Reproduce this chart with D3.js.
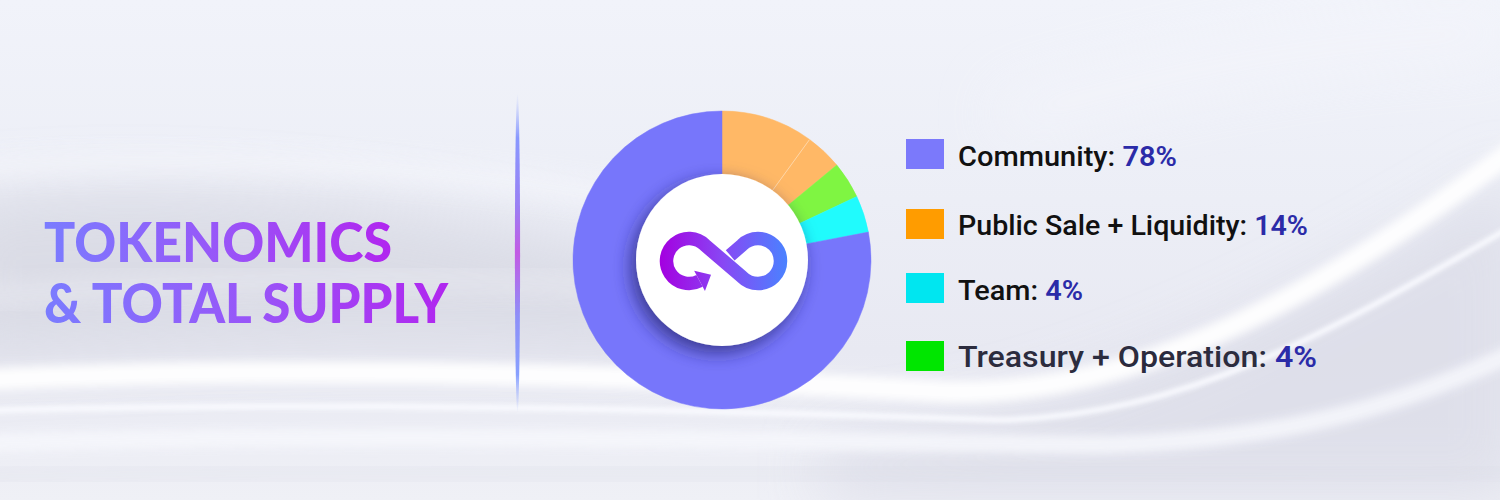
<!DOCTYPE html>
<html>
<head>
<meta charset="utf-8">
<script src="https://cdn.jsdelivr.net/npm/d3@7"></script>
<style>
html,body{margin:0;padding:0;background:#eef0f7;}
svg{display:block;}
</style>
</head>
<body>
<svg id="chart" width="1500" height="500"></svg>
<script>
// ---- data ----
const sliceNames  = ["Public Sale", "Liquidity", "Treasury + Operation", "Team", "Community"];
const sliceValues = [10, 4, 4, 4, 78];
const sliceColors = ["#ffb866", "#ffb866", "#7ff542", "#20fbfd", "#7776fb"];

const legendLabels = ["Community:", "Public Sale + Liquidity:", "Team:", "Treasury + Operation:"];
const legendValues = ["78%", "14%", "4%", "4%"];
const legendColors = ["#7b79fb", "#ff9c00", "#00e6f0", "#00e600"];

const titleLines = ["TOKENOMICS", "& TOTAL SUPPLY"];

// ---- setup ----
const svg = d3.select("#chart");
const defs = svg.append("defs");

const bg = defs.append("linearGradient").attr("id","bgGrad").attr("x1",0).attr("y1",0).attr("x2",0).attr("y2",1);
bg.append("stop").attr("offset","0%").attr("stop-color","#f1f3fa");
bg.append("stop").attr("offset","40%").attr("stop-color","#eceef6");
bg.append("stop").attr("offset","70%").attr("stop-color","#e8e9f2");
bg.append("stop").attr("offset","100%").attr("stop-color","#eff0f6");

[["blur30",30],["blur12",12],["blur5",5],["blur2",2]].forEach(([id,s])=>{
  defs.append("filter").attr("id",id).attr("x","-50%").attr("y","-50%").attr("width","200%").attr("height","200%")
    .append("feGaussianBlur").attr("stdDeviation",s);
});

const shadow = defs.append("filter").attr("id","circShadow").attr("x","-50%").attr("y","-50%").attr("width","200%").attr("height","200%");
shadow.append("feDropShadow").attr("dx",-5).attr("dy",7).attr("stdDeviation",9)
  .attr("flood-color","#202066").attr("flood-opacity",0.7);

const tg = defs.append("linearGradient").attr("id","titleGrad").attr("x1",0).attr("x2",1).attr("y1",0).attr("y2",0);
tg.append("stop").attr("offset","0%").attr("stop-color","#7a7cff");
tg.append("stop").attr("offset","50%").attr("stop-color","#9856f8");
tg.append("stop").attr("offset","100%").attr("stop-color","#b126ef");

const dg = defs.append("linearGradient").attr("id","divGrad").attr("x1",0).attr("x2",0).attr("y1",0).attr("y2",1);
dg.append("stop").attr("offset","0%").attr("stop-color","#a8b8ff").attr("stop-opacity",0);
dg.append("stop").attr("offset","14%").attr("stop-color","#8898ff");
dg.append("stop").attr("offset","35%").attr("stop-color","#9a80f4");
dg.append("stop").attr("offset","50%").attr("stop-color","#c25ae4");
dg.append("stop").attr("offset","70%").attr("stop-color","#8e90f8");
dg.append("stop").attr("offset","88%").attr("stop-color","#88a0ff");
dg.append("stop").attr("offset","100%").attr("stop-color","#a8b8ff").attr("stop-opacity",0);

const lg = defs.append("linearGradient").attr("id","logoGrad").attr("gradientUnits","userSpaceOnUse")
  .attr("x1",660).attr("x2",787).attr("y1",0).attr("y2",0);
lg.append("stop").attr("offset","0%").attr("stop-color","#a400e0");
lg.append("stop").attr("offset","50%").attr("stop-color","#8848f4");
lg.append("stop").attr("offset","100%").attr("stop-color","#4a82ff");

// ---- background ----
svg.append("rect").attr("width",1500).attr("height",500).attr("fill","url(#bgGrad)");
const bgG = svg.append("g");
bgG.append("path").attr("d","M-50,200 C200,170 450,210 650,260 L650,350 C450,340 200,345 -50,360 Z")
  .attr("fill","#d4d5e0").attr("opacity",0.7).attr("filter","url(#blur30)");
bgG.append("path").attr("d","M-50,170 C200,150 450,165 700,210").attr("fill","none")
  .attr("stroke","#f6f7fc").attr("stroke-width",18).attr("opacity",0.8).attr("filter","url(#blur12)");
bgG.append("path").attr("d","M-50,300 C200,275 450,270 760,300").attr("fill","none")
  .attr("stroke","#f1f2f8").attr("stroke-width",14).attr("opacity",0.6).attr("filter","url(#blur12)");
// darker haze below the swoosh on the right
bgG.append("path").attr("d","M820,440 C1050,420 1250,330 1520,170 L1520,500 L820,500 Z")
  .attr("fill","#dcdde8").attr("opacity",0.8).attr("filter","url(#blur30)");
// main white band: left at y~380, bending up to the top right
bgG.append("path").attr("d","M-60,382 C300,362 700,378 950,392 C1150,395 1330,290 1540,130").attr("fill","none")
  .attr("stroke","#ffffff").attr("stroke-width",22).attr("opacity",0.95).attr("filter","url(#blur5)");
bgG.append("path").attr("d","M-60,412 C300,400 700,410 1000,420 C1200,415 1350,320 1540,210").attr("fill","none")
  .attr("stroke","#fafbff").attr("stroke-width",6).attr("opacity",0.9).attr("filter","url(#blur2)");
bgG.append("path").attr("d","M-60,445 C300,432 700,440 1100,445 C1300,440 1420,400 1540,340").attr("fill","none")
  .attr("stroke","#f6f7fc").attr("stroke-width",18).attr("opacity",0.9).attr("filter","url(#blur5)");
bgG.append("path").attr("d","M-60,478 C300,468 700,476 1540,470").attr("fill","none")
  .attr("stroke","#dadbe6").attr("stroke-width",14).attr("opacity",0.5).attr("filter","url(#blur12)");
bgG.append("path").attr("d","M1000,120 C1200,60 1350,40 1510,30").attr("fill","none")
  .attr("stroke","#f6f7fc").attr("stroke-width",40).attr("opacity",0.6).attr("filter","url(#blur30)");

// ---- title ----
const titleG = svg.append("g");
const titleY = [262, 323];
const titleW = [348, 404];
titleG.selectAll("text").data(titleLines).join("text")
  .attr("x",44).attr("y",(d,i)=>titleY[i])
  .attr("font-family","Lato, 'Open Sans', sans-serif").attr("font-weight",900)
  .attr("font-size",56)
  .attr("textLength",(d,i)=>titleW[i]).attr("lengthAdjust","spacingAndGlyphs")
  .attr("fill","url(#titleGrad)")
  .text(d=>d);

// ---- divider ----
svg.append("ellipse").attr("cx",517.5).attr("cy",253).attr("rx",2.6).attr("ry",160)
  .attr("fill","url(#divGrad)");

// ---- donut ----
const cx = 722, cy = 260, rOuter = 149, rInner = 86;
const pie = d3.pie().sort(null).value(d=>d.v).startAngle(0).endAngle(2*Math.PI);
const arc = d3.arc().innerRadius(rInner - 8).outerRadius(rOuter);
const slices = sliceNames.map((n,i)=>({n, v:sliceValues[i], c:sliceColors[i]}));
const arcs = pie(slices);
const donut = svg.append("g").attr("transform",`translate(${cx},${cy})`);
donut.selectAll("path").data(arcs).join("path")
  .attr("d",arc)
  .attr("fill",d=>d.data.c)
  .attr("stroke",d=>d.data.c)
  .attr("stroke-width",0.5);
// faint separator between the two orange slices
const sepA = arcs[0].endAngle;
donut.append("line")
  .attr("x1",(rInner-8)*Math.sin(sepA)).attr("y1",-(rInner-8)*Math.cos(sepA))
  .attr("x2",rOuter*Math.sin(sepA)).attr("y2",-rOuter*Math.cos(sepA))
  .attr("stroke","#ffd6a6").attr("stroke-width",1);

donut.append("circle").attr("r",rInner).attr("fill","#ffffff").attr("filter","url(#circShadow)");

// logo (infinity with arrow)
const logo = svg.append("g");
const c1 = [689,261], c2 = [758,261], rl = 22.5, k = rl*Math.SQRT1_2;
const p1 = [c1[0]+k, c1[1]-k];
const p3 = [c2[0]-k, c2[1]-k];
const p4 = [c1[0]+k, c1[1]+k];
const gapT = 0.32;
const start = [p3[0] + (p4[0]-p3[0])*gapT, p3[1] + (p4[1]-p3[1])*gapT];
const endAng = 62*Math.PI/180;
const endP = [c1[0]+rl*Math.cos(endAng), c1[1]+rl*Math.sin(endAng)];
const lp = d3.path();
lp.moveTo(start[0],start[1]);
lp.lineTo(p3[0],p3[1]);
lp.arc(c2[0],c2[1],rl,-3*Math.PI/4,3*Math.PI/4,false);
lp.lineTo(p1[0],p1[1]);
lp.arc(c1[0],c1[1],rl,-Math.PI/4,endAng,true);
logo.append("path").attr("d",lp.toString()).attr("fill","none")
  .attr("stroke","url(#logoGrad)").attr("stroke-width",13.5);
const dir = [Math.sin(endAng), -Math.cos(endAng)];
const nrm = [Math.cos(endAng), Math.sin(endAng)];
const hw = 11.5, hl = 13;
const tip = [endP[0]+dir[0]*hl, endP[1]+dir[1]*hl];
const b1 = [endP[0]+nrm[0]*hw, endP[1]+nrm[1]*hw];
const b2 = [endP[0]-nrm[0]*hw, endP[1]-nrm[1]*hw];
logo.append("path").attr("d",`M${b1}L${tip}L${b2}Z`).attr("fill","url(#logoGrad)");

// ---- legend ----
const rowTops = [139, 209, 273, 341];
const rowBase = [166, 235, 300, 367];
const rowW = [219, 350, 125, 359];
const legend = svg.append("g");
const rows = legend.selectAll("g").data(legendLabels).join("g");
rows.append("rect").attr("x",906).attr("y",(d,i)=>rowTops[i]).attr("width",38).attr("height",30)
  .attr("fill",(d,i)=>legendColors[i]);
const txt = rows.append("text").attr("x",958).attr("y",(d,i)=>rowBase[i])
  .attr("font-family","Roboto, 'Noto Sans', sans-serif").attr("font-weight",500)
  .attr("font-size",(d,i)=> i===3 ? 29 : 28)
  .attr("textLength",(d,i)=>rowW[i]).attr("lengthAdjust","spacingAndGlyphs");
txt.append("tspan").attr("fill",(d,i)=> i===3 ? "#2c2c3e" : "#111111").text(d=>d + " ");
txt.append("tspan").attr("fill","#2b2ba8").attr("font-weight",600).text((d,i)=>legendValues[i]);
</script>
</body>
</html>
